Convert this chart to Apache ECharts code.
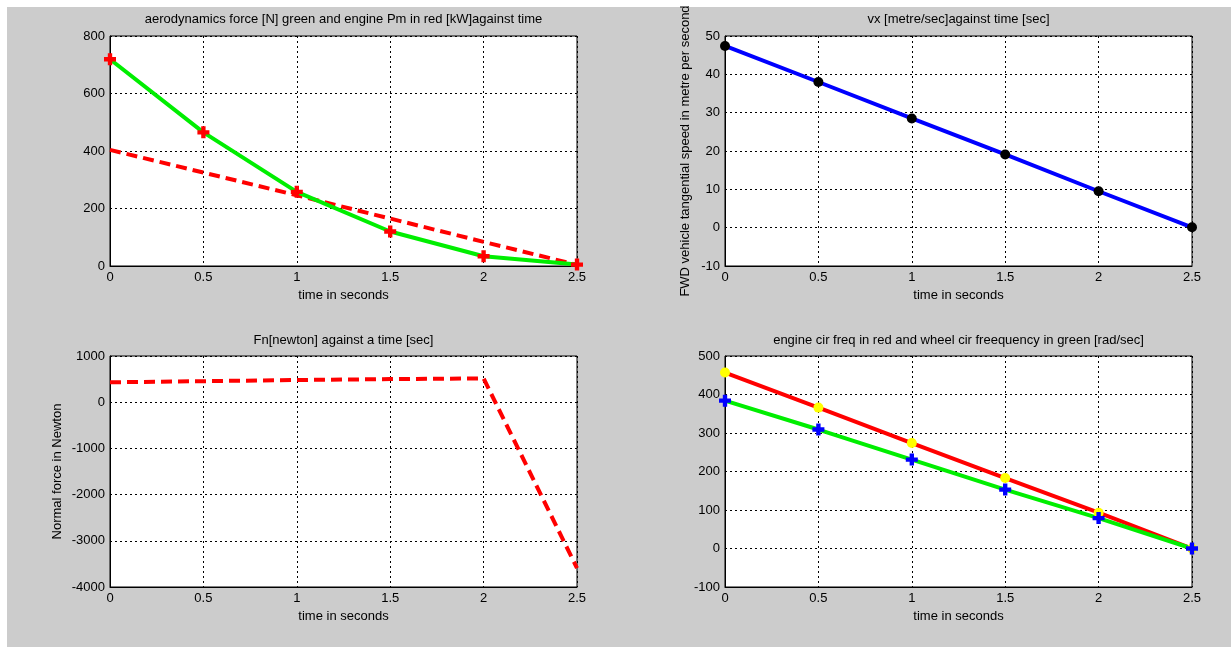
<!DOCTYPE html>
<html>
<head>
<meta charset="utf-8">
<title>Vehicle braking simulation</title>
<script src="https://cdn.jsdelivr.net/npm/echarts@6/dist/echarts.min.js"></script>
<style>
  html, body { margin: 0; padding: 0; background: #ffffff; }
  #wrap { position: relative; width: 1231px; height: 647px; overflow: hidden; }
  #panel { position: absolute; left: 7px; top: 7px; right: 0; bottom: 0; background: #cccccc; }
  #chart { position: absolute; left: 0; top: 0; width: 1231px; height: 647px; }
</style>
</head>
<body>
<div id="wrap">
  <div id="panel"></div>
  <div id="chart"></div>
</div>
<script>
// time samples [s]
const timeSec = [0, 0.5, 1, 1.5, 2, 2.5];

// top-left: aerodynamic force [N] (green) and engine power Pm [kW] (red dashed)
const aeroForceN = [719, 465, 258, 120, 34, 5];
const enginePowerKW = [404, 325, 246, 165, 84, 4];

// top-right: longitudinal speed vx [m/s]
const vxMetrePerSec = [47.4, 38.0, 28.5, 19.1, 9.5, 0.1];

// bottom-left: normal force Fn [N]
const normalForceN = [430, 455, 480, 500, 515, -3590];

// bottom-right: engine (red) and wheel (green) circular frequency [rad/s]
const engineFreqRad = [457, 366, 274, 183, 93, 0];
const wheelFreqRad = [384, 309, 231, 153, 79, 0];

// axis ranges: [min, max, interval]
const xRange = [0, 2.5, 0.5];
const yRangeAero = [0, 800, 200];
const yRangeVx = [-10, 50, 10];
const yRangeFn = [-4000, 1000, 1000];
const yRangeFreq = [-100, 500, 100];

// texts
const titles = [
  'aerodynamics force [N] green and engine Pm in red [kW]against time',
  'vx [metre/sec]against time [sec]',
  'Fn[newton] against a time [sec]',
  'engine cir freq in red and wheel cir freequency in green [rad/sec]'
];
const xName = 'time in seconds';
const yNameVx = 'FWD vehicle tangential speed in metre per second';
const yNameFn = 'Normal force in Newton';

const FONT = 'Liberation Sans, Arial, sans-serif';
const FS = 13;
// bold plus marker
const PLUS = 'path://M3.5,0H7.5V3.5H11V7.5H7.5V11H3.5V7.5H0V3.5H3.5Z';

const pairs = arr => timeSec.map((t, i) => [t, arr[i]]);

const grids = [
  { left: 110, top: 36, width: 467, height: 230 },
  { left: 725, top: 36, width: 467, height: 230 },
  { left: 110, top: 356, width: 467, height: 231 },
  { left: 725, top: 356, width: 467, height: 231 }
].map(g => Object.assign(g, {
  show: true, backgroundColor: '#ffffff', borderColor: '#000000', borderWidth: 1
}));

const gridLine = { show: true, lineStyle: { color: '#000000', width: 1, type: [2, 3] } };
const axisText = { color: '#000000', fontFamily: FONT, fontSize: FS };
const plainNumber = v => String(v);

function xAxis(gi) {
  return {
    type: 'value', gridIndex: gi,
    min: xRange[0], max: xRange[1], interval: xRange[2],
    name: xName, nameLocation: 'middle', nameGap: 23,
    nameTextStyle: axisText,
    axisLine: { show: true, onZero: false, lineStyle: { color: '#000000', width: 1 } },
    axisTick: { show: false },
    axisLabel: Object.assign({ margin: 5, formatter: plainNumber, showMinLabel: true, showMaxLabel: true }, axisText),
    splitLine: gridLine
  };
}

function yAxis(gi, range, name, gap) {
  return {
    type: 'value', gridIndex: gi,
    min: range[0], max: range[1], interval: range[2],
    name: name || '', nameLocation: 'middle', nameGap: gap || 0,
    nameTextStyle: axisText,
    axisLine: { show: true, onZero: false, lineStyle: { color: '#000000', width: 1 } },
    axisTick: { show: false },
    axisLabel: Object.assign({ margin: 5, formatter: plainNumber, showMinLabel: true, showMaxLabel: true }, axisText),
    splitLine: gridLine
  };
}

const titleCenters = [[343.5, 13], [958.5, 13], [343.5, 334], [958.5, 334]];

const option = {
  animation: false,
  backgroundColor: 'transparent',
  title: titles.map((t, i) => ({
    text: t, left: titleCenters[i][0], top: titleCenters[i][1],
    textAlign: 'center', padding: 0,
    textStyle: { color: '#000000', fontFamily: FONT, fontSize: FS, fontWeight: 'normal' }
  })),
  grid: grids,
  xAxis: [xAxis(0), xAxis(1), xAxis(2), xAxis(3)],
  yAxis: [
    yAxis(0, yRangeAero),
    yAxis(1, yRangeVx, yNameVx, 33),
    yAxis(2, yRangeFn, yNameFn, 46),
    yAxis(3, yRangeFreq)
  ],
  series: [
    // engine power (red dashed)
    {
      type: 'line', xAxisIndex: 0, yAxisIndex: 0, data: pairs(enginePowerKW),
      showSymbol: false, lineStyle: { color: '#ff0000', width: 4, type: [11, 6] }
    },
    // aerodynamic force (green, red plus markers)
    {
      type: 'line', xAxisIndex: 0, yAxisIndex: 0, data: pairs(aeroForceN),
      symbol: PLUS, symbolSize: 12, showSymbol: true,
      itemStyle: { color: '#ff0000' },
      lineStyle: { color: '#00ee00', width: 4 }
    },
    // vx (blue, black dots)
    {
      type: 'line', xAxisIndex: 1, yAxisIndex: 1, data: pairs(vxMetrePerSec),
      symbol: 'circle', symbolSize: 10, showSymbol: true,
      itemStyle: { color: '#000000' },
      lineStyle: { color: '#0000ff', width: 4 }
    },
    // normal force (red dashed)
    {
      type: 'line', xAxisIndex: 2, yAxisIndex: 2, data: pairs(normalForceN),
      showSymbol: false, lineStyle: { color: '#ff0000', width: 4, type: [11, 6] }
    },
    // engine frequency (red, yellow dots)
    {
      type: 'line', xAxisIndex: 3, yAxisIndex: 3, data: pairs(engineFreqRad),
      symbol: 'circle', symbolSize: 10, showSymbol: true,
      itemStyle: { color: '#ffff00' },
      lineStyle: { color: '#ff0000', width: 4 }
    },
    // wheel frequency (green, blue plus)
    {
      type: 'line', xAxisIndex: 3, yAxisIndex: 3, data: pairs(wheelFreqRad),
      symbol: PLUS, symbolSize: 12, showSymbol: true,
      itemStyle: { color: '#0000ff' },
      lineStyle: { color: '#00ee00', width: 4 }
    }
  ]
};

const chart = echarts.init(document.getElementById('chart'), null, { renderer: 'canvas' });
chart.setOption(option);
</script>
</body>
</html>
